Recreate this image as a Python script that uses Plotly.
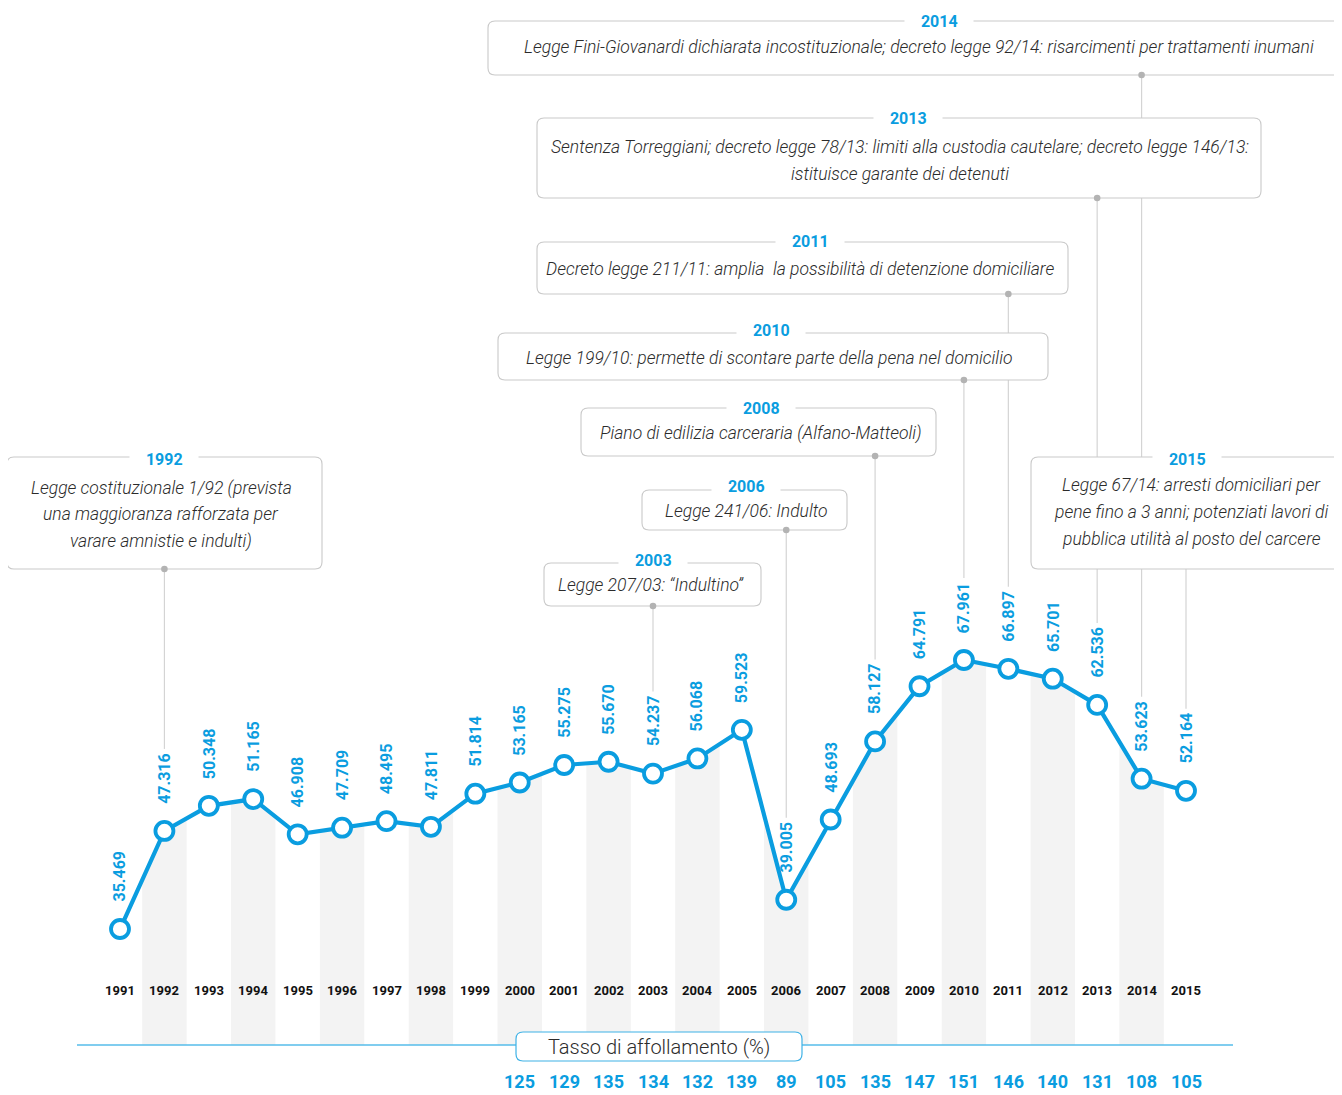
import plotly.graph_objects as go

# ---------------- data ----------------
years = list(range(1991, 2016))
detenuti = [35.469, 47.316, 50.348, 51.165, 46.908, 47.709, 48.495, 47.811, 51.814, 53.165,
            55.275, 55.670, 54.237, 56.068, 59.523, 39.005, 48.693, 58.127, 64.791, 67.961,
            66.897, 65.701, 62.536, 53.623, 52.164]
affollamento = [None, None, None, None, None, None, None, None, None, 125,
                129, 135, 134, 132, 139, 89, 105, 135, 147, 151,
                146, 140, 131, 108, 105]
event_years = [2014, 2013, 2011, 2010, 2008, 2006, 2003, 1992, 2015]
event_texts = [
    ["Legge Fini-Giovanardi dichiarata incostituzionale; decreto legge 92/14: risarcimenti per trattamenti inumani"],
    ["Sentenza Torreggiani; decreto legge 78/13: limiti alla custodia cautelare; decreto legge 146/13:",
     "istituisce garante dei detenuti"],
    ["Decreto legge 211/11: amplia  la possibilità di detenzione domiciliare"],
    ["Legge 199/10: permette di scontare parte della pena nel domicilio"],
    ["Piano di edilizia carceraria (Alfano-Matteoli)"],
    ["Legge 241/06: Indulto"],
    ["Legge 207/03: “Indultino”"],
    ["Legge costituzionale 1/92 (prevista", "una maggioranza rafforzata per", "varare amnistie e indulti)"],
    ["Legge 67/14: arresti domiciliari per", "pene fino a 3 anni; potenziati lavori di",
     "pubblica utilità al posto del carcere"],
]
axis_title = "Tasso di affollamento (%)"

# ---------------- layout geometry (page pixels) ----------------
PAGE_W, PAGE_H = 1342, 1095
BODY_M = 8                              # default body margin of the html page
W, H = PAGE_W - BODY_M, PAGE_H - BODY_M
X_FIRST_PX, X_STEP = 120.0, 44.417      # page pixel of first year, pixels per year
Y_ZERO_PX, Y_K = 1222.7, 8.28           # page pixel of value 0, pixels per unit
BASE_PX = 1045                          # baseline of the grey columns / blue rule


def px2x(px):
    return years[0] + (px - X_FIRST_PX) / X_STEP


def py2y(py):
    return (Y_ZERO_PX - py) / Y_K


def y2py(v):
    return Y_ZERO_PX - v * Y_K


def x2px(x):
    return X_FIRST_PX + (x - years[0]) * X_STEP


BLUE = "#0a9de0"
GREY_COL = "#f3f3f3"
BORDER = "#c9c9c9"
CONN = "#d4d4d4"
DOT = "#b3b3b3"
TXT = "#2b2b2b"

F_BOLD = "Roboto, sans-serif"
F_TEXT = "Roboto, Lato, sans-serif"

fig = go.Figure()

# ---- grey alternate columns (area under the line, clipped to the column) ----
base_val = py2y(BASE_PX)
for i, yr in enumerate(years):
    if yr % 2 != 0:
        continue
    v = detenuti[i]
    vl = (detenuti[i - 1] + v) / 2 if i > 0 else v
    vr = (detenuti[i + 1] + v) / 2 if i < len(years) - 1 else v
    xs = [yr - 0.5, yr - 0.5, yr, yr + 0.5, yr + 0.5, yr - 0.5]
    ys = [base_val, vl, v, vr, base_val, base_val]
    fig.add_trace(go.Scatter(x=xs, y=ys, fill="toself", fillcolor=GREY_COL, mode="none",
                             hoverinfo="skip", showlegend=False))

# ---- main line ----
fig.add_trace(go.Scatter(
    x=years, y=detenuti, mode="lines+markers",
    line=dict(color=BLUE, width=4.2),
    marker=dict(size=18, color="white", line=dict(color=BLUE, width=3.8)),
    showlegend=False, hoverinfo="skip"))

shapes = []
annotations = []


def rrect_path(x0, y0, x1, y1, r):
    def P(px, py):
        return f"{px2x(px):.5f},{py2y(py):.5f}"
    return (f"M {P(x0 + r, y0)} L {P(x1 - r, y0)} Q {P(x1, y0)} {P(x1, y0 + r)} "
            f"L {P(x1, y1 - r)} Q {P(x1, y1)} {P(x1 - r, y1)} L {P(x0 + r, y1)} "
            f"Q {P(x0, y1)} {P(x0, y1 - r)} L {P(x0, y0 + r)} Q {P(x0, y0)} {P(x0 + r, y0)} Z")


# event box geometry: (x0, y0, x1, y1, title_x, title_y, text_x, [line ys], dot)
boxes = {
    2014: (488, 21, 1395, 75, 939, 21, 919, [47], True),
    2013: (537, 118, 1261, 198, 908, 118, 900, [147, 174], True),
    2011: (537, 242, 1068, 294, 810, 241, 800, [269], True),
    2010: (498, 333, 1048, 380, 771, 330, 769, [358], True),
    2008: (581, 408, 936, 456, 761, 408, 761, [433], True),
    2006: (642, 490, 847, 530, 746, 486, 746, [511], True),
    2003: (544, 563, 761, 606, 653, 560, 651, [585], True),
    1992: (7, 457, 322, 569, 164, 459, 161, [488, 514, 541], True),
    2015: (1031, 457, 1395, 569, 1187, 459, 1191, [485, 512, 539], False),
}

LABEL_GAP = 25
LABEL_LEN = 48

# connectors first (so boxes hide them)
for ey in event_years:
    x0, y0, x1, y1, tx, ty, txx, lys, dot = boxes[ey]
    v = detenuti[years.index(ey)]
    end_py = y2py(v) - LABEL_GAP - LABEL_LEN - 9
    shapes.append(dict(type="line", xref="x", yref="y", x0=ey, x1=ey,
                       y0=py2y(y1), y1=py2y(end_py), line=dict(color=CONN, width=1.2), layer="above"))

for ey, lines in zip(event_years, event_texts):
    x0, y0, x1, y1, tx, ty, txx, lys, dot = boxes[ey]
    shapes.append(dict(type="path", xref="x", yref="y", path=rrect_path(x0, y0, x1, y1, 7),
                       fillcolor="white", line=dict(color=BORDER, width=1.1), layer="above"))
    if dot:
        cx = x2px(ey)
        shapes.append(dict(type="circle", xref="x", yref="y",
                           x0=px2x(cx - 3.3), x1=px2x(cx + 3.3), y0=py2y(y1 - 3.3), y1=py2y(y1 + 3.3),
                           fillcolor=DOT, line=dict(width=0), layer="above"))
    annotations.append(dict(x=px2x(tx), y=py2y(ty), xref="x", yref="y", showarrow=False,
                            text="\u00a0\u00a0\u00a0\u00a0<b>%d</b>\u00a0\u00a0\u00a0\u00a0" % ey,
                            font=dict(family=F_BOLD, size=16, color=BLUE),
                            bgcolor="white", borderpad=0, xanchor="center", yanchor="middle"))
    for ly, t in zip(lys, lines):
        annotations.append(dict(x=px2x(txx), y=py2y(ly), xref="x", yref="y", showarrow=False,
                                text=t, font=dict(family=F_TEXT, size=17.5, color=TXT,
                                                  style="italic", weight=300),
                                xanchor="center", yanchor="middle"))

# ---- rotated data labels ----
for yr, v in zip(years, detenuti):
    annotations.append(dict(x=yr, y=v, xref="x", yref="y", showarrow=False,
                            text="<b>%.3f</b>" % v, textangle=-90,
                            font=dict(family=F_BOLD, size=16, color=BLUE),
                            xanchor="center", yanchor="bottom", yshift=LABEL_GAP))

# ---- year labels ----
for yr in years:
    annotations.append(dict(x=yr, y=py2y(990), xref="x", yref="y", showarrow=False,
                            text="<b>%d</b>" % yr,
                            font=dict(family=F_BOLD, size=13, color="#111111"),
                            xanchor="center", yanchor="middle"))

# ---- blue rule + label box ----
shapes.append(dict(type="line", xref="x", yref="y", x0=px2x(77), x1=px2x(1233),
                   y0=py2y(BASE_PX), y1=py2y(BASE_PX), line=dict(color="#56bdea", width=1.6),
                   layer="above"))
shapes.append(dict(type="path", xref="x", yref="y", path=rrect_path(516, 1032, 802, 1061, 7),
                   fillcolor="white", line=dict(color="#3fb2e6", width=1.2), layer="above"))
annotations.append(dict(x=px2x(659), y=py2y(1047), xref="x", yref="y", showarrow=False,
                        text=axis_title, font=dict(family=F_TEXT, size=20, color=TXT, weight=300),
                        xanchor="center", yanchor="middle"))

# ---- affollamento values ----
for yr, a in zip(years, affollamento):
    if a is None:
        continue
    annotations.append(dict(x=yr, y=py2y(1081), xref="x", yref="y", showarrow=False,
                            text="<b>%d</b>" % a,
                            font=dict(family=F_BOLD, size=18, color=BLUE),
                            xanchor="center", yanchor="middle"))

fig.update_layout(
    width=W, height=H, margin=dict(l=0, r=0, t=0, b=0),
    paper_bgcolor="white", plot_bgcolor="white",
    xaxis=dict(range=[px2x(BODY_M), px2x(PAGE_W)], visible=False, fixedrange=True),
    yaxis=dict(range=[py2y(PAGE_H), py2y(BODY_M)], visible=False, fixedrange=True),
    shapes=shapes, annotations=annotations, showlegend=False,
)

fig.write_html("out.html")
